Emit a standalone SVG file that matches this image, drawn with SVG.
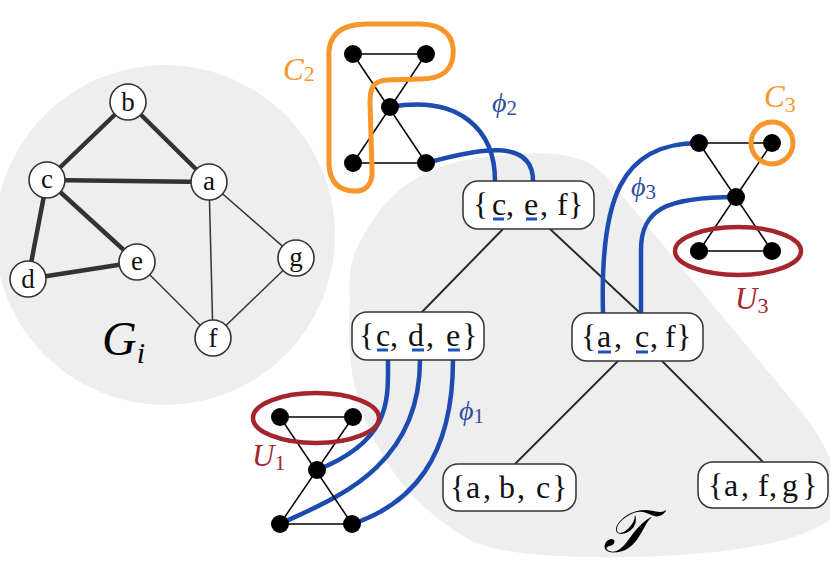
<svg xmlns="http://www.w3.org/2000/svg" width="830" height="574" viewBox="0 0 830 574">
<style>
  .bg { fill: #eeeeee; stroke: none; }
  .gthick { stroke: #333; stroke-width: 4.5; stroke-linecap: round; }
  .gthin { stroke: #333; stroke-width: 1.5; }
  .gnode { fill: #fff; stroke: #333; stroke-width: 1.6; }
  .glbl { font-size: 27px; fill: #111; text-anchor: middle; }
  .tedge { stroke: #2a2a2a; stroke-width: 2; }
  .box { fill: #fff; stroke: #333; stroke-width: 1.5; }
  .btxt { font-size: 32px; fill: #111; }
  .ul { stroke: #2150c0; stroke-width: 3; }
  .phi { fill: none; stroke: #1d4bb0; stroke-width: 4.5; stroke-linecap: round; }
  .sedge { stroke: #000; stroke-width: 1.5; }
  .sn { fill: #000; }
  .orange { fill: none; stroke: #f7962a; stroke-width: 5; }
  .red { fill: none; stroke: #a4262c; stroke-width: 4.5; }
  .math { font-style: italic; }
  .sub { font-style: normal; }
</style>

<!-- background regions -->
<circle class="bg" cx="165" cy="235" r="170"/>
<path class="bg" d="M 350,300 C 348,270 352,255 362,238 C 385,195 420,165 480,158 C 540,150 580,150 605,175 L 800,410 C 840,460 845,500 830,520 C 790,548 700,556 627,557 C 560,558 500,555 470,540 C 420,512 385,470 365,420 C 350,385 347,340 350,300 Z"/>

<g font-family="'Liberation Serif', Tinos, 'Times New Roman', 'Noto Serif', 'DejaVu Serif', serif">
<!-- G_i graph -->
<g id="Gi-edges">
  <line class="gthick" x1="128" y1="102" x2="47" y2="180"/>
  <line class="gthick" x1="128" y1="102" x2="209" y2="182"/>
  <line class="gthick" x1="47" y1="180" x2="209" y2="182"/>
  <line class="gthick" x1="47" y1="180" x2="28" y2="279"/>
  <line class="gthick" x1="47" y1="180" x2="137" y2="262"/>
  <line class="gthick" x1="28" y1="279" x2="137" y2="262"/>
  <line class="gthin" x1="209" y1="182" x2="213" y2="338"/>
  <line class="gthin" x1="209" y1="182" x2="296" y2="258"/>
  <line class="gthin" x1="137" y1="262" x2="213" y2="338"/>
  <line class="gthin" x1="296" y1="258" x2="213" y2="338"/>
</g>
<g id="Gi-b"><circle class="gnode" cx="128" cy="102" r="18"/><text class="glbl" x="128" y="111">b</text></g>
<g id="Gi-c"><circle class="gnode" cx="47" cy="180" r="18"/><text class="glbl" x="47" y="188">c</text></g>
<g id="Gi-a"><circle class="gnode" cx="209" cy="182" r="18"/><text class="glbl" x="209" y="190">a</text></g>
<g id="Gi-e"><circle class="gnode" cx="137" cy="262" r="18"/><text class="glbl" x="137" y="270">e</text></g>
<g id="Gi-d"><circle class="gnode" cx="28" cy="279" r="18"/><text class="glbl" x="28" y="288">d</text></g>
<g id="Gi-g"><circle class="gnode" cx="296" cy="258" r="18"/><text class="glbl" x="296" y="266">g</text></g>
<g id="Gi-f"><circle class="gnode" cx="213" cy="338" r="18"/><text class="glbl" x="213" y="347">f</text></g>
<text class="math" x="102" y="355" font-size="48" fill="#000">G<tspan font-size="30" dy="8">i</tspan></text>

<!-- tree edges -->
<g id="tree-edges">
  <line class="tedge" x1="503" y1="229" x2="422" y2="312"/>
  <line class="tedge" x1="550" y1="229" x2="640" y2="313"/>
  <line class="tedge" x1="618" y1="361" x2="515" y2="464"/>
  <line class="tedge" x1="662" y1="361" x2="763" y2="462"/>
</g>

<!-- phi connectors -->
<g id="connectors">
  <path class="phi" d="M 390,107 C 460,95 495,130 495,181"/>
  <path class="phi" d="M 426,163 C 480,148 533,138 533,181"/>
  <path class="phi" d="M 388,360 C 388,400 392,440 317,470"/>
  <path class="phi" d="M 420,360 C 420,470 330,500 280,524"/>
  <path class="phi" d="M 453,360 C 453,460 410,505 352,524"/>
  <path class="phi" d="M 603,313 C 600,200 620,143 699,143"/>
  <path class="phi" d="M 641,313 L 641,250 C 641,210 665,197 736,197"/>
</g>

<!-- tree nodes -->
<g id="T-cef">
  <rect class="box" x="463" y="181" width="131" height="48" rx="15"/>
  <text class="btxt" y="215"><tspan x="473">{</tspan><tspan x="492">c</tspan><tspan x="506">,</tspan><tspan x="524">e</tspan><tspan x="540">,</tspan><tspan x="557">f</tspan><tspan x="568">}</tspan></text>
  <line class="ul" x1="493" y1="219" x2="504" y2="219"/>
  <line class="ul" x1="526" y1="219" x2="537" y2="219"/>
</g>
<g id="T-cde">
  <rect class="box" x="352" y="312" width="132" height="48" rx="15"/>
  <text class="btxt" y="346"><tspan x="359">{</tspan><tspan x="376">c</tspan><tspan x="390">,</tspan><tspan x="408">d</tspan><tspan x="426">,</tspan><tspan x="446">e</tspan><tspan x="462">}</tspan></text>
  <line class="ul" x1="377" y1="350" x2="388" y2="350"/>
  <line class="ul" x1="412" y1="350" x2="424" y2="350"/>
  <line class="ul" x1="448" y1="350" x2="460" y2="350"/>
</g>
<g id="T-acf">
  <rect class="box" x="572" y="313" width="131" height="48" rx="15"/>
  <text class="btxt" y="347"><tspan x="581">{</tspan><tspan x="597">a</tspan><tspan x="614">,</tspan><tspan x="635">c</tspan><tspan x="650">,</tspan><tspan x="665">f</tspan><tspan x="676">}</tspan></text>
  <line class="ul" x1="598" y1="352" x2="611" y2="352"/>
  <line class="ul" x1="636" y1="352" x2="648" y2="352"/>
</g>
<g id="T-abc">
  <rect class="box" x="443" y="464" width="133" height="47" rx="15"/>
  <text class="btxt" y="498"><tspan x="450">{</tspan><tspan x="466">a</tspan><tspan x="483">,</tspan><tspan x="499">b</tspan><tspan x="517">,</tspan><tspan x="536">c</tspan><tspan x="552">}</tspan></text>
</g>
<g id="T-afg">
  <rect class="box" x="698" y="462" width="130" height="46" rx="15"/>
  <text class="btxt" y="496"><tspan x="708">{</tspan><tspan x="724">a</tspan><tspan x="741">,</tspan><tspan x="758">f</tspan><tspan x="769">,</tspan><tspan x="782">g</tspan><tspan x="802">}</tspan></text>
</g>
<text class="math" x="603" y="552" font-size="60" fill="#000">𝒯</text>

<!-- small graph C2 -->
<g id="graph2">
  <line class="sedge" x1="353" y1="54" x2="426" y2="54"/>
  <line class="sedge" x1="353" y1="163" x2="426" y2="163"/>
  <line class="sedge" x1="353" y1="54" x2="426" y2="163"/>
  <line class="sedge" x1="426" y1="54" x2="353" y2="163"/>
  <circle class="sn" cx="353" cy="54" r="9"/>
  <circle class="sn" cx="426" cy="54" r="9"/>
  <circle class="sn" cx="390" cy="107" r="9"/>
  <circle class="sn" cx="353" cy="163" r="9"/>
  <circle class="sn" cx="426" cy="163" r="9"/>
  <path class="orange" d="M 329,60 C 327,35 340,24 368,24 L 420,24 C 445,24 455,38 453,56 C 451,72 440,79 420,79 L 387,80 C 373,81 370,88 370,102 L 372,170 C 373,186 364,192 353,191 C 337,190 330,180 329,165 Z"/>
  <text class="math" x="283" y="80" font-size="31" fill="#f7962a">C<tspan class="sub" font-size="22" dy="1">2</tspan></text>
  <text class="math" x="492" y="112" font-size="28" fill="#2d4e9e">ϕ<tspan class="sub" font-size="21" dy="3">2</tspan></text>
</g>

<!-- small graph U1 -->
<g id="graph1">
  <line class="sedge" x1="280" y1="417" x2="353" y2="417"/>
  <line class="sedge" x1="280" y1="524" x2="352" y2="524"/>
  <line class="sedge" x1="280" y1="417" x2="352" y2="524"/>
  <line class="sedge" x1="353" y1="417" x2="280" y2="524"/>
  <circle class="sn" cx="280" cy="417" r="9"/>
  <circle class="sn" cx="353" cy="417" r="9"/>
  <circle class="sn" cx="317" cy="470" r="9"/>
  <circle class="sn" cx="280" cy="524" r="9"/>
  <circle class="sn" cx="352" cy="524" r="9"/>
  <ellipse class="red" cx="316" cy="418" rx="63" ry="25"/>
  <text class="math" x="252" y="466" font-size="31" fill="#a4262c">U<tspan class="sub" font-size="22" dy="4">1</tspan></text>
  <text class="math" x="459" y="420" font-size="28" fill="#2d4e9e">ϕ<tspan class="sub" font-size="21" dy="3">1</tspan></text>
</g>

<!-- small graph U3 -->
<g id="graph3">
  <line class="sedge" x1="699" y1="143" x2="772" y2="143"/>
  <line class="sedge" x1="699" y1="251" x2="772" y2="251"/>
  <line class="sedge" x1="699" y1="143" x2="772" y2="251"/>
  <line class="sedge" x1="772" y1="143" x2="699" y2="251"/>
  <circle class="sn" cx="699" cy="143" r="9"/>
  <circle class="sn" cx="772" cy="143" r="9"/>
  <circle class="sn" cx="736" cy="197" r="9"/>
  <circle class="sn" cx="699" cy="251" r="9"/>
  <circle class="sn" cx="772" cy="251" r="9"/>
  <circle class="orange" cx="772" cy="143" r="21" stroke-width="4"/>
  <ellipse class="red" cx="738" cy="251" rx="63" ry="24"/>
  <text class="math" x="764" y="107" font-size="31" fill="#f7962a">C<tspan class="sub" font-size="22" dy="5">3</tspan></text>
  <text class="math" x="735" y="309" font-size="31" fill="#a4262c">U<tspan class="sub" font-size="22" dy="4">3</tspan></text>
  <text class="math" x="631" y="196" font-size="28" fill="#2d4e9e">ϕ<tspan class="sub" font-size="21" dy="3">3</tspan></text>
</g>
</g>
</svg>
